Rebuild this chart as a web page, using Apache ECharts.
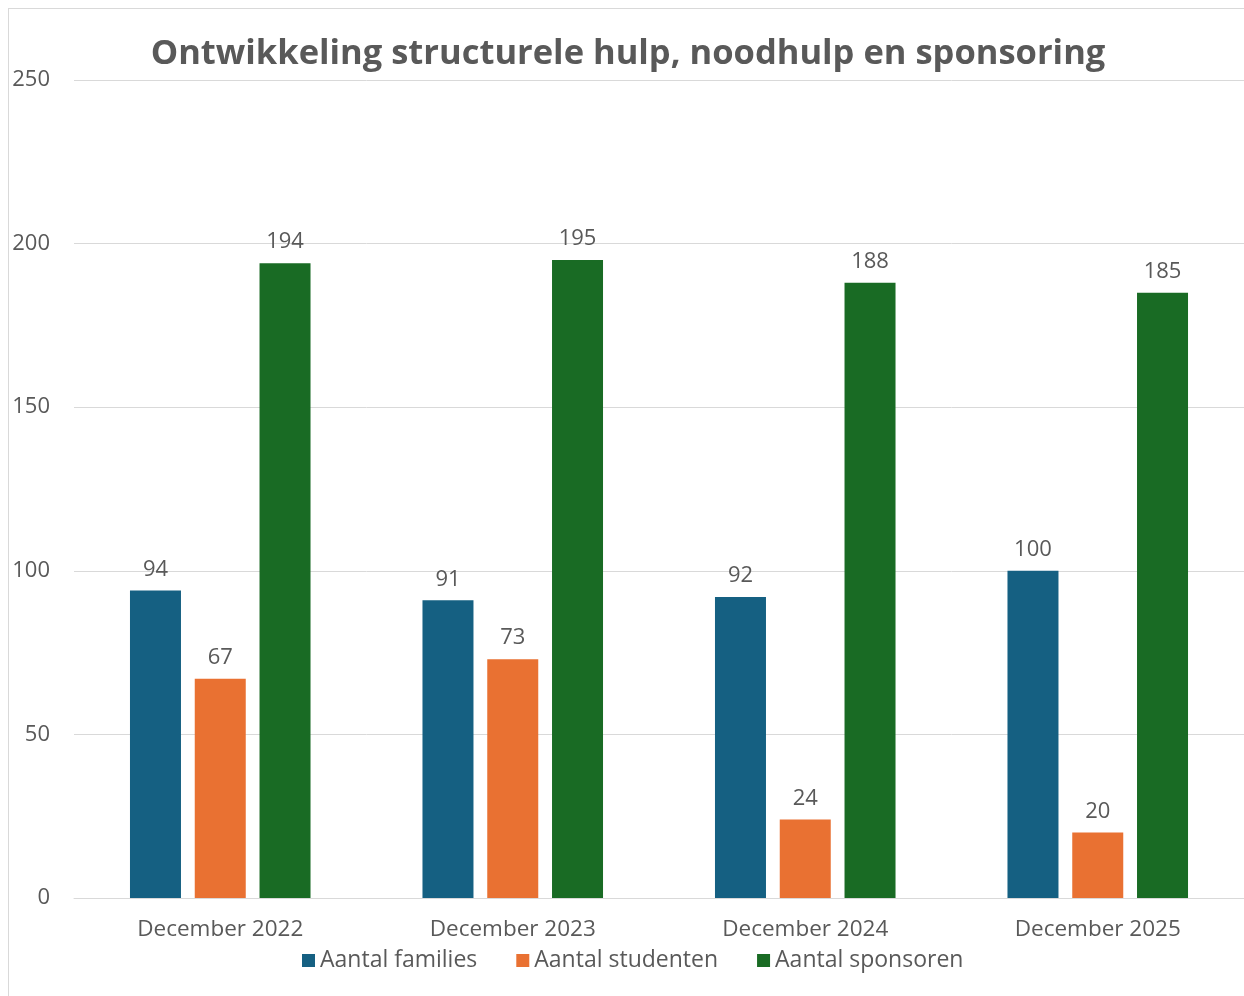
<!DOCTYPE html>
<html>
<head>
<meta charset="utf-8">
<script src="https://cdn.jsdelivr.net/npm/echarts@6/dist/echarts.min.js"></script>
<style>
html,body{margin:0;padding:0;background:#fff;}
#frame{position:absolute;left:8px;top:8px;width:1240px;height:992px;border-left:1px solid #d9d9d9;border-top:1px solid #d9d9d9;}
#c{position:absolute;left:0;top:0;width:1244px;height:996px;}
</style>
</head>
<body>
<div id="frame"></div>
<div id="c"></div>
<script>
const categories = ['December 2022','December 2023','December 2024','December 2025'];
const families = [94, 91, 92, 100];
const studenten = [67, 73, 24, 20];
const sponsoren = [194, 195, 188, 185];
const seriesNames = ['Aantal families','Aantal studenten','Aantal sponsoren'];
const colors = ['#156082','#E97132','#196B24'];

const chart = echarts.init(document.getElementById('c'));
const font = 'Open Sans, sans-serif';
const lbl = {show:true, position:'top', color:'#595959', fontSize:22, fontFamily:font, distance:10};
function mk(name, data, color){
  return {name, type:'bar', data, barWidth:51, barGap:'27%', itemStyle:{color}, label:lbl};
}
chart.setOption({
  animation:false,
  title:{text:'Ontwikkeling structurele hulp, noodhulp en sponsoring', left:623, textAlign:'center', top:32,
    textStyle:{color:'#595959', fontSize:34.5, fontWeight:'bold', fontFamily:'Open Sans, sans-serif'}},
  legend:{data:seriesNames, left:297, top:944, itemWidth:13, itemHeight:13, itemGap:39,
    icon:'rect', textStyle:{color:'#595959', fontSize:23, fontFamily:font}},
  grid:{left:74, right:0, top:80, bottom:98, containLabel:false},
  xAxis:{type:'category', data:categories,
    axisLine:{lineStyle:{color:'#d9d9d9', width:1}}, axisTick:{show:false},
    axisLabel:{color:'#595959', fontSize:22.5, fontFamily:font, margin:20}},
  yAxis:{type:'value', min:0, max:250, interval:50,
    axisLine:{show:false}, axisTick:{show:false},
    splitLine:{lineStyle:{color:'#d9d9d9', width:1}},
    axisLabel:{color:'#595959', fontSize:22, fontFamily:font, margin:24}},
  series:[mk(seriesNames[0], families, colors[0]), mk(seriesNames[1], studenten, colors[1]), mk(seriesNames[2], sponsoren, colors[2])]
});
</script>
</body>
</html>
